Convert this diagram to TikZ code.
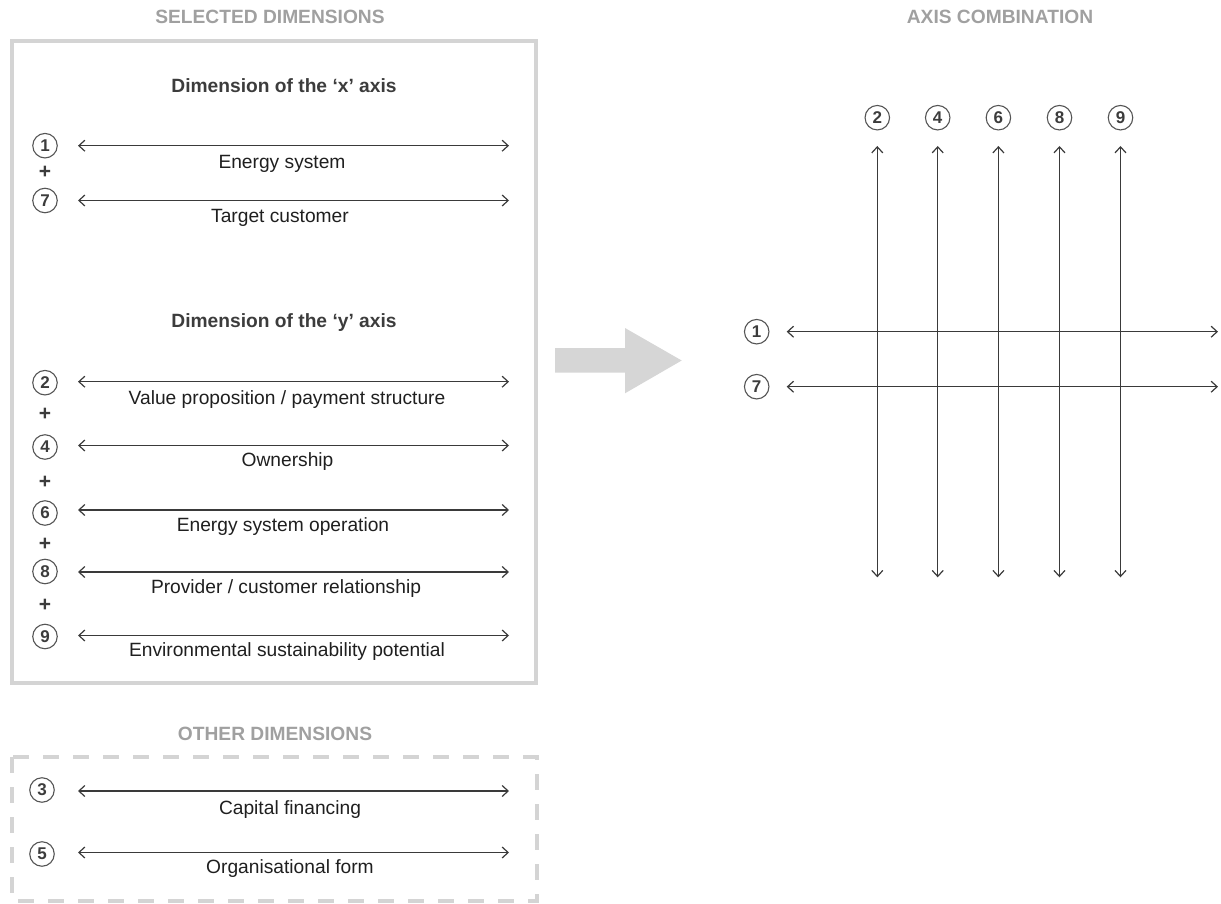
\documentclass[tikz,border=0pt]{standalone}
\usepackage{fontspec}
\setmainfont{Liberation Sans}
\usetikzlibrary{arrows.meta}
\definecolor{boxgray}{HTML}{D4D4D4}
\definecolor{titlegray}{HTML}{A0A0A0}
\definecolor{headgray}{HTML}{3C3C3C}
\definecolor{linegray}{HTML}{3A3A3A}
\definecolor{circgray}{HTML}{555555}
\definecolor{bigarrow}{HTML}{D6D6D6}
\begin{document}
\begin{tikzpicture}[x=1pt,y=-1pt,
  title/.style={font=\bfseries\fontsize{19.2}{21}\selectfont, text=titlegray, anchor=base, inner sep=0},
  heading/.style={font=\bfseries\fontsize{19.2}{21}\selectfont, text=headgray, anchor=base, inner sep=0},
  lbl/.style={font=\fontsize{19.2}{21}\selectfont, text=black!88, anchor=base, inner sep=0},
  num/.style={circle, draw=circgray, line width=1.1pt, minimum size=24.5pt, inner sep=0, font=\bfseries\fontsize{17}{17}\selectfont, text=headgray},
  plus/.style={font=\bfseries\fontsize{21}{21}\selectfont, text=headgray, inner sep=0},
  dimarrow/.style={draw=linegray, line width=1.2pt, {Straight Barb[length=6pt,width=11pt]}-{Straight Barb[length=6pt,width=11pt]}},
  frame/.style={draw=boxgray, line width=4pt},
]
\useasboundingbox (0,0) rectangle (1221,904);

% ---------- titles ----------
\node[title] (tsel) at (270,23.3) {SELECTED DIMENSIONS};
\node[title] (toth) at (275,740) {OTHER DIMENSIONS};
\node[title] (taxis) at (1000,23.3) {AXIS COMBINATION};

% ---------- frames ----------
\draw[frame] (12,41.5) rectangle (536,682.5);
\draw[frame, dash pattern=on 16pt off 14pt] (12,757) rectangle (536.5,901);

% ---------- headings ----------
\node[heading] (hx) at (284,92.7) {Dimension of the ‘x’ axis};
\node[heading] (hy) at (284,327) {Dimension of the ‘y’ axis};

% ---------- x-axis dimensions ----------
\node[num] (c1) at (45,145.7) {1};
\coordinate (a1l) at (78,145.7); \coordinate (a1r) at (509,145.7);
\draw[dimarrow] (a1l) -- (a1r);
\node[lbl] (l1) at (282,169) {Energy system};
\node[plus] (p1) at (45,172) {+};
\node[num] (c7) at (45,200.5) {7};
\coordinate (a7l) at (78,200.5); \coordinate (a7r) at (509,200.5);
\draw[dimarrow] (a7l) -- (a7r);
\node[lbl] (l7) at (280,222.7) {Target customer};

% ---------- y-axis dimensions ----------
\node[num] (c2) at (45,382.7) {2};
\coordinate (a2l) at (78,381.7); \coordinate (a2r) at (509,381.7);
\draw[dimarrow] (a2l) -- (a2r);
\node[lbl] (l2) at (287,404) {Value proposition / payment structure};
\node[plus] (p2) at (45,414.3) {+};
\node[num] (c4) at (45,447) {4};
\coordinate (a4l) at (78,445.5); \coordinate (a4r) at (509,445.5);
\draw[dimarrow] (a4l) -- (a4r);
\node[lbl] (l4) at (287.5,466) {Ownership};
\node[plus] (p3) at (45,482.7) {+};
\node[num] (c6) at (45,513) {6};
\coordinate (a6l) at (78,510); \coordinate (a6r) at (509,510);
\draw[dimarrow] (a6l) -- (a6r);
\node[lbl] (l6) at (283,531.7) {Energy system operation};
\node[plus] (p4) at (45,544) {+};
\node[num] (c8) at (45,571.5) {8};
\coordinate (a8l) at (78,572); \coordinate (a8r) at (509,572);
\draw[dimarrow] (a8l) -- (a8r);
\node[lbl] (l8) at (286,593.3) {Provider / customer relationship};
\node[plus] (p5) at (45,605.7) {+};
\node[num] (c9) at (45,636.5) {9};
\coordinate (a9l) at (78,635.5); \coordinate (a9r) at (509,635.5);
\draw[dimarrow] (a9l) -- (a9r);
\node[lbl] (l9) at (287,656.7) {Environmental sustainability potential};

% ---------- other dimensions ----------
\node[num] (c3) at (42,790) {3};
\coordinate (a3l) at (78,791); \coordinate (a3r) at (509,791);
\draw[dimarrow] (a3l) -- (a3r);
\node[lbl] (l3) at (290,814) {Capital financing};
\node[num] (c5) at (42,854) {5};
\coordinate (a5l) at (78,852.5); \coordinate (a5r) at (509,852.5);
\draw[dimarrow] (a5l) -- (a5r);
\node[lbl] (l5) at (290,873.3) {Organisational form};

% ---------- big arrow ----------
\fill[bigarrow] (555,348) -- (625,348) -- (625,328) -- (681.7,360.5) -- (625,393.3) -- (625,372.7) -- (555,372.7) -- cycle;

% ---------- axis combination ----------
\node[num] (r1) at (756.7,331.7) {1};
\coordinate (h1l) at (786.7,331.7); \coordinate (h1r) at (1218,331.7);
\node[num] (r7) at (756.7,386.7) {7};
\coordinate (h7l) at (786.7,386.7); \coordinate (h7r) at (1218,386.7);

\foreach \n/\x in {2/877.3, 4/937.7, 6/998.4, 8/1059.5, 9/1120.5}{
  \node[num] (v\n) at (\x,117.7) {\n};
  \coordinate (v\n t) at (\x,146);
  \coordinate (v\n b) at (\x,577.3);
  \draw[dimarrow] (v\n t) -- (v\n b);
}
\draw[dimarrow] (h1l) -- (h1r);
\draw[dimarrow] (h7l) -- (h7r);
\end{tikzpicture}
\end{document}
